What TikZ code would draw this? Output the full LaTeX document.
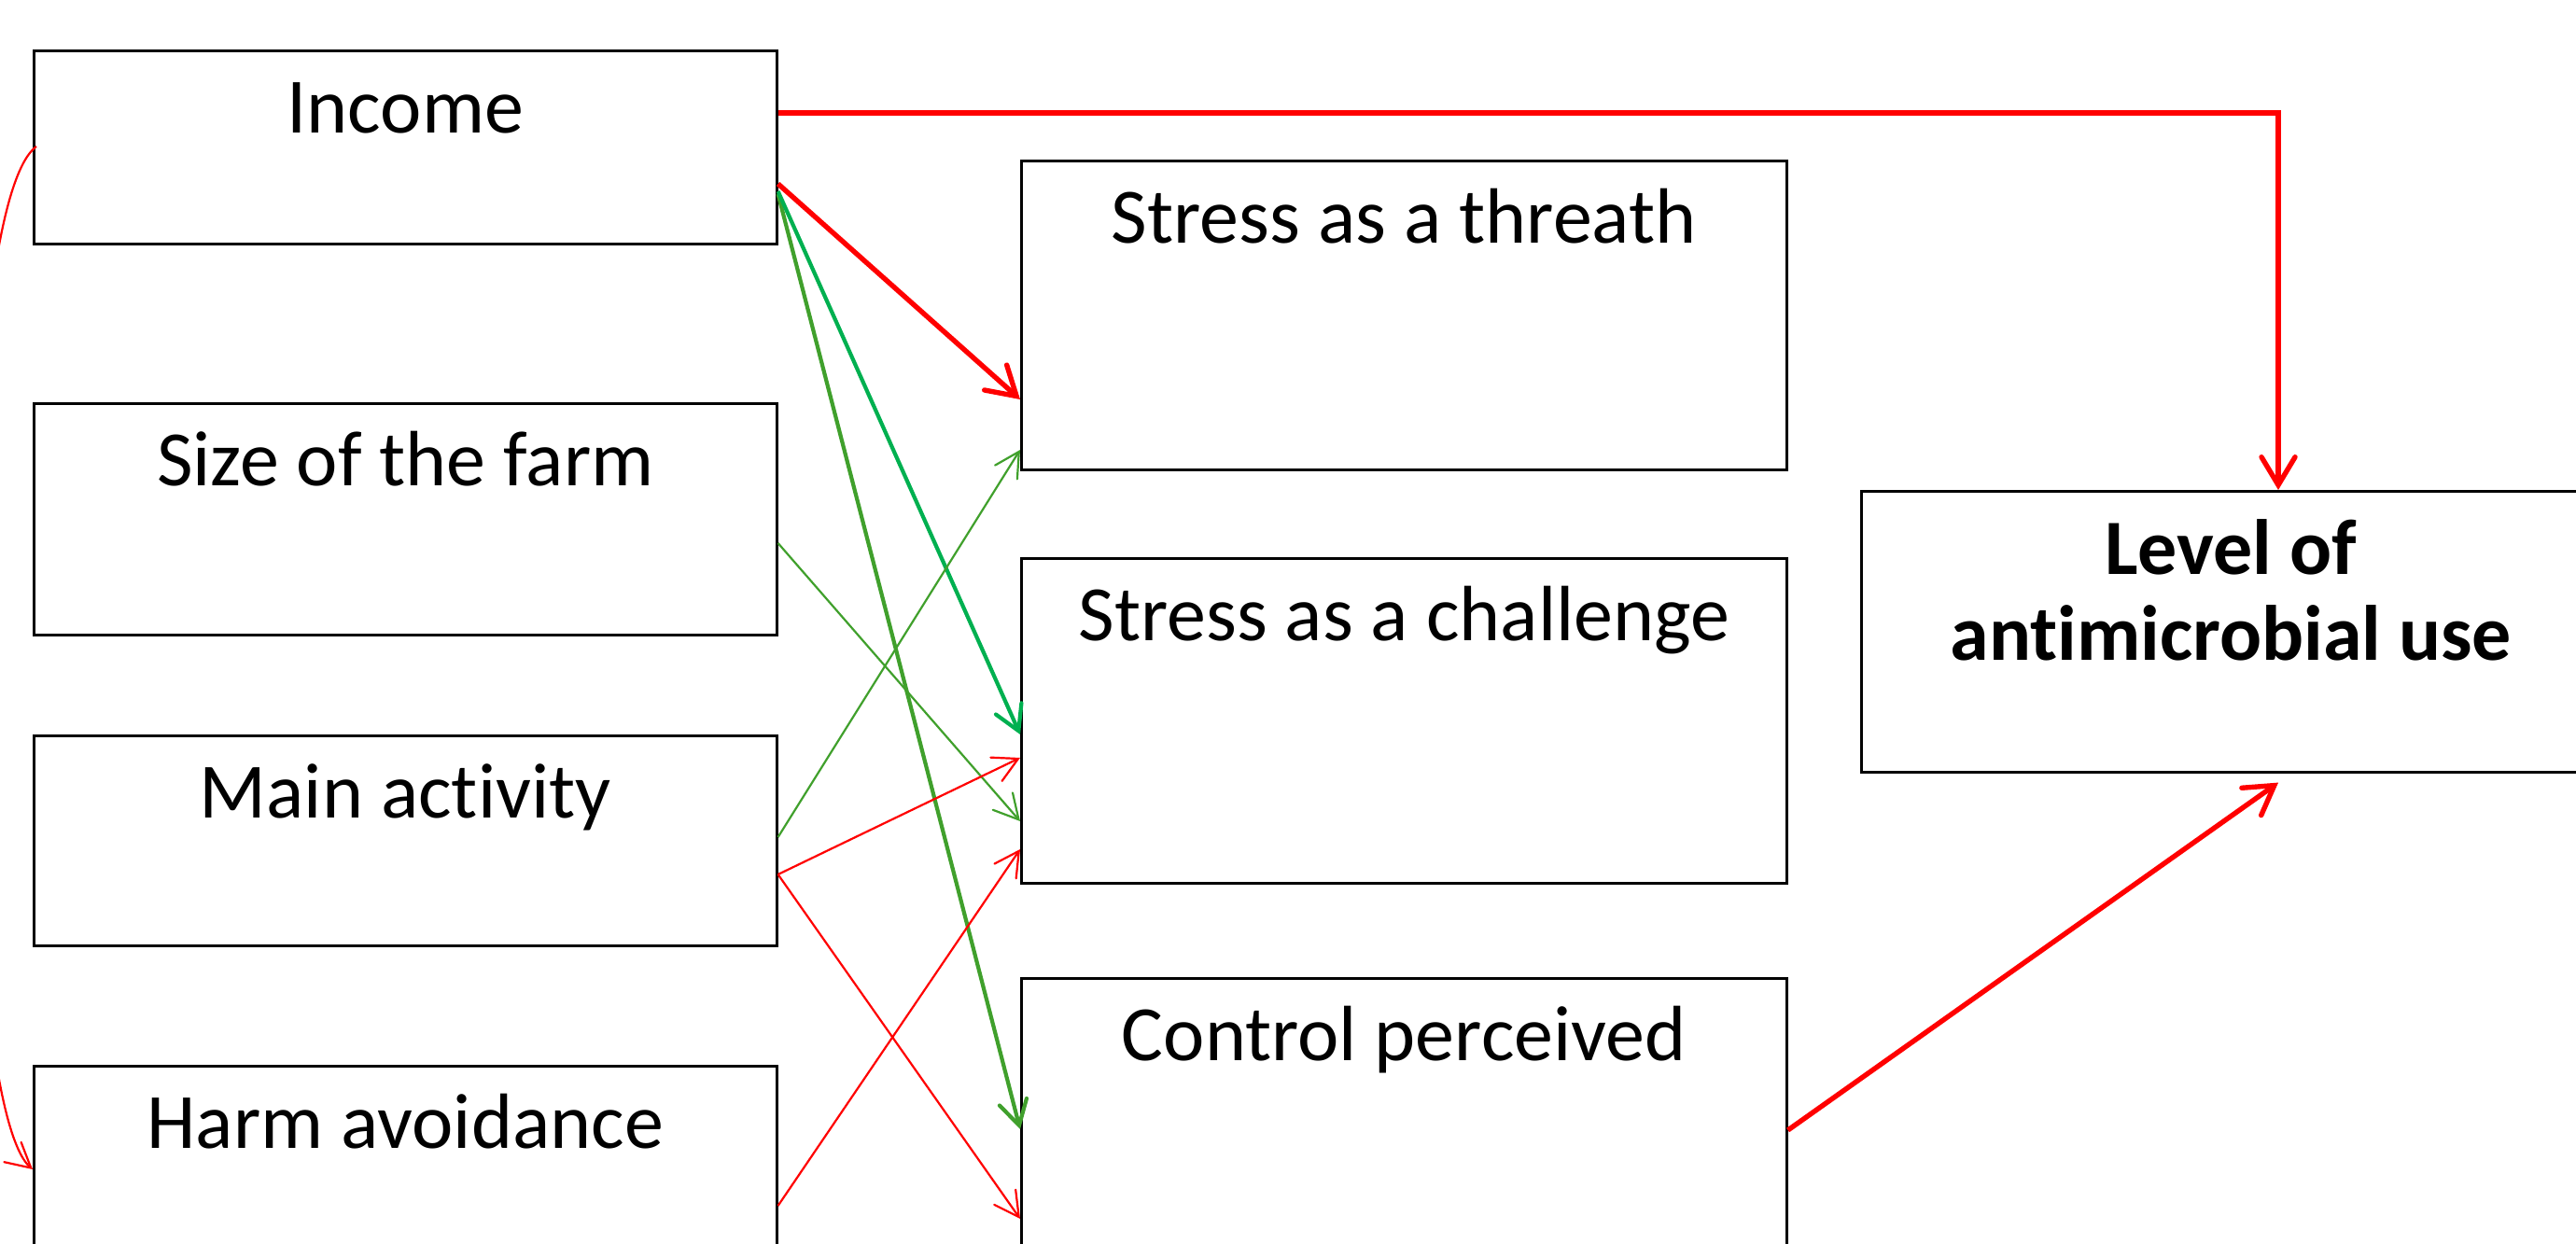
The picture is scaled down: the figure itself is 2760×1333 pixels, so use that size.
\documentclass[tikz,border=0pt]{standalone}
\usepackage{fontspec}
\setmainfont{Carlito}[Ligatures={NoCommon}]
\usetikzlibrary{arrows.meta,calc}
\definecolor{ared}{HTML}{FF0000}
\definecolor{tgreen}{HTML}{00B050}
\definecolor{lgreen}{HTML}{40A02C}
\begin{document}
\begin{tikzpicture}[x=0.25pt,y=-0.25pt,
  box/.style={draw=black,line width=0.65pt,rectangle,inner sep=0pt,anchor=north west,fill=none},
  lbl/.style={anchor=base,inner sep=0pt,font=\fontsize{21pt}{23pt}\selectfont},
  thickred/.style={draw=ared,line width=1.35pt,-{Straight Barb[length=7.5pt,width=9pt,line cap=round]}},
  midgreen/.style={line width=1.05pt,-{Straight Barb[length=6.5pt,width=7.5pt,line cap=round]}},
  thinline/.style={line width=0.55pt,-{Straight Barb[length=6.5pt,width=7pt,line cap=round]}}]
\path[use as bounding box,clip] (0,0) rectangle (2760,1333);
\fill[white] (0,0) rectangle (2760,1333);
% left boxes
\node[box,minimum width=199pt,minimum height=51.75pt] (inc) at (35,53) {};
\node[box,minimum width=199pt,minimum height=62pt] (siz) at (35,431) {};
\node[box,minimum width=199pt,minimum height=56.25pt] (mai) at (35,787) {};
\node[box,minimum width=199pt,minimum height=70pt] (har) at (35,1141) {};
% middle boxes
\node[box,minimum width=205pt,minimum height=82.75pt] (thr) at (1093,171) {};
\node[box,minimum width=205pt,minimum height=87pt] (cha) at (1093,597) {};
\node[box,minimum width=205pt,minimum height=90pt] (ctl) at (1093,1047) {};
% right box
\node[box,minimum width=198pt,minimum height=75.25pt] (lev) at (1993,525) {};
% labels
\node[lbl] (incT) at ($(inc.north)+(0,90)$) {Income};
\node[lbl] (sizT) at ($(siz.north)+(0,90)$) {Size of the farm};
\node[lbl] (maiT) at ($(mai.north)+(0,90)$) {Main act\kern0pt ivity};
\node[lbl] (harT) at ($(har.north)+(0,90)$) {Harm avoidance};
\node[lbl] (thrT) at ($(thr.north)+(0,90)$) {Stress as a threath};
\node[lbl] (chaT) at ($(cha.north)+(0,90)$) {Stress as a challenge};
\node[lbl] (ctlT) at ($(ctl.north)+(0,90)$) {Control perceived};
\node[lbl,font=\fontsize{21pt}{23pt}\selectfont\bfseries] (levT1) at ($(lev.north)+(0,91)$) {Level of};
\node[lbl,font=\fontsize{21pt}{23pt}\selectfont\bfseries] (levT2) at ($(lev.north)+(0,183)$) {ant\kern0pt imicrobial use};
% connectors
\draw[thickred] ($(inc.north east)+(0,68)$) -| ($(lev.north west)+(448,0)$);
\draw[thickred] ($(inc.north east)+(0,144)$) -- ($(thr.north west)+(0,257)$);
\draw[midgreen,draw=lgreen] ($(inc.north east)+(0,155)$) -- ($(ctl.north west)+(0,163)$);
\draw[midgreen,draw=tgreen] ($(inc.north east)+(0,152)$) -- ($(cha.north west)+(0,190)$);
\draw[thinline,draw=lgreen] ($(siz.north east)+(0,151)$) -- ($(cha.north west)+(0,283)$);
\draw[thinline,draw=lgreen] ($(mai.north east)+(0,110)$) -- ($(thr.north west)+(0,311)$);
\draw[thinline,draw=ared] ($(mai.north east)+(0,150)$) -- ($(cha.north west)+(0,215)$);
\draw[thinline,draw=ared] ($(mai.north east)+(0,150)$) -- ($(ctl.north west)+(0,259)$);
\draw[thinline,draw=ared] ($(har.north east)+(0,151)$) -- ($(cha.north west)+(0,313)$);
\draw[thickred] ($(ctl.north east)+(0,164)$) -- ($(lev.south west)+(448,10)$);
\draw[thinline,draw=ared] ($(inc.north west)+(4,104)$) .. controls (-55,225) and (-50,1180) .. ($(har.north west)+(0,112)$);
\end{tikzpicture}
\end{document}
